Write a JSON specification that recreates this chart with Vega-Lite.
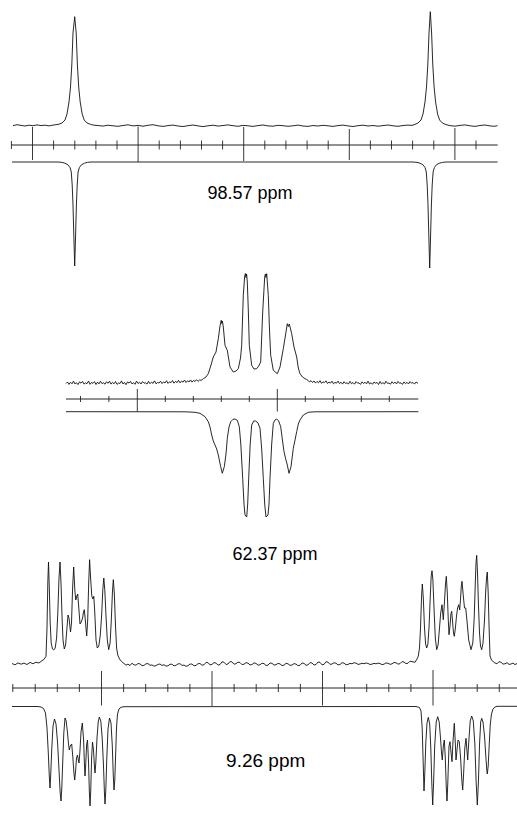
{
  "$schema": "https://vega.github.io/schema/vega-lite/v6.json",
  "padding": 0,
  "spacing": 0,
  "bounds": "flush",
  "background": "white",
  "config": {"view": {"stroke": null}},
  "resolve": {"scale": {"x": "independent", "y": "independent"}},
  "datasets": {
    "p1u": [{"x":13,"y":19.4},{"x":17,"y":20.3},{"x":21,"y":19.6},{"x":25,"y":19.0},{"x":29,"y":19.8},{"x":33,"y":19.3},{"x":37,"y":20.1},{"x":41,"y":19.4},{"x":45,"y":19.8},{"x":49,"y":19.1},{"x":53,"y":19.9},{"x":56,"y":20.3},{"x":59,"y":20.8},{"x":62,"y":22},{"x":65,"y":25},{"x":67,"y":31},{"x":69,"y":43},{"x":70.5,"y":58},{"x":71.8,"y":80},{"x":73,"y":112},{"x":74.7,"y":128.3},{"x":76.2,"y":112},{"x":77.4,"y":80},{"x":78.7,"y":58},{"x":80.2,"y":43},{"x":82.2,"y":31},{"x":84.2,"y":25},{"x":87,"y":22},{"x":90.5,"y":20.6},{"x":94,"y":19.8},{"x":98,"y":19.5},{"x":103,"y":18.9},{"x":108,"y":19.8},{"x":113,"y":19.2},{"x":118,"y":18.7},{"x":123,"y":19.5},{"x":128,"y":20.2},{"x":133,"y":19.1},{"x":138,"y":19.6},{"x":143,"y":18.8},{"x":148,"y":19.7},{"x":153,"y":20.3},{"x":158,"y":19.2},{"x":163,"y":18.6},{"x":168,"y":19.4},{"x":173,"y":19.9},{"x":178,"y":19.0},{"x":183,"y":18.5},{"x":188,"y":19.3},{"x":193,"y":20.0},{"x":198,"y":19.1},{"x":203,"y":18.4},{"x":208,"y":19.2},{"x":213,"y":19.8},{"x":218,"y":18.9},{"x":223,"y":19.5},{"x":228,"y":20.1},{"x":233,"y":19.3},{"x":238,"y":18.7},{"x":243,"y":19.6},{"x":248,"y":19.2},{"x":253,"y":18.6},{"x":258,"y":19.4},{"x":263,"y":20.0},{"x":268,"y":19.1},{"x":273,"y":18.8},{"x":278,"y":19.7},{"x":283,"y":19.3},{"x":288,"y":18.7},{"x":293,"y":19.2},{"x":298,"y":19.9},{"x":303,"y":19.0},{"x":308,"y":18.6},{"x":313,"y":19.5},{"x":318,"y":19.0},{"x":323,"y":19.7},{"x":328,"y":19.2},{"x":333,"y":18.6},{"x":338,"y":19.4},{"x":343,"y":19.9},{"x":348,"y":19.1},{"x":353,"y":18.5},{"x":358,"y":19.3},{"x":363,"y":19.8},{"x":368,"y":19.0},{"x":373,"y":19.5},{"x":378,"y":18.8},{"x":383,"y":19.4},{"x":388,"y":20.0},{"x":393,"y":19.2},{"x":398,"y":18.7},{"x":403,"y":19.5},{"x":408,"y":19.9},{"x":412,"y":19.6},{"x":415,"y":20.6},{"x":418,"y":22},{"x":421,"y":25},{"x":423,"y":31},{"x":425,"y":43},{"x":426.5,"y":58},{"x":427.8,"y":80},{"x":429,"y":112},{"x":430.3,"y":133.3},{"x":431.6,"y":112},{"x":432.8,"y":80},{"x":434.1,"y":58},{"x":435.6,"y":43},{"x":437.6,"y":31},{"x":439.6,"y":25},{"x":442.4,"y":22},{"x":446,"y":20.4},{"x":450,"y":19.4},{"x":455,"y":18.8},{"x":460,"y":19.6},{"x":465,"y":20.1},{"x":470,"y":19.2},{"x":475,"y":18.6},{"x":480,"y":19.5},{"x":485,"y":20.0},{"x":490,"y":19.1},{"x":494,"y":18.7},{"x":497.5,"y":19.3}],
    "p1l": [{"x":12,"y":-17},{"x":58,"y":-17},{"x":62,"y":-17.4},{"x":65,"y":-18.2},{"x":68,"y":-19.8},{"x":70,"y":-22.5},{"x":71.3,"y":-27},{"x":72.2,"y":-40},{"x":73,"y":-60},{"x":73.8,"y":-90},{"x":74.7,"y":-121},{"x":75.6,"y":-90},{"x":76.4,"y":-60},{"x":77.2,"y":-40},{"x":78.1,"y":-27},{"x":79.4,"y":-22.5},{"x":81.4,"y":-19.8},{"x":84.4,"y":-18.2},{"x":87.4,"y":-17.4},{"x":91,"y":-17},{"x":413,"y":-17},{"x":417,"y":-17.4},{"x":420,"y":-18.2},{"x":423,"y":-19.8},{"x":425,"y":-22.5},{"x":426.3,"y":-27},{"x":427.2,"y":-40},{"x":428,"y":-60},{"x":428.8,"y":-90},{"x":429.7,"y":-123},{"x":430.6,"y":-90},{"x":431.4,"y":-60},{"x":432.2,"y":-40},{"x":433.1,"y":-27},{"x":434.4,"y":-22.5},{"x":436.4,"y":-19.8},{"x":439.4,"y":-18.2},{"x":442.4,"y":-17.4},{"x":446,"y":-17},{"x":497.5,"y":-17}],
    "p1t": [{"x":11.4,"y":4,"y2":-4},{"x":53.6,"y":4.5,"y2":-4.5},{"x":74.8,"y":4.5,"y2":-4.5},{"x":95.9,"y":4.5,"y2":-4.5},{"x":117.0,"y":4.5,"y2":-4.5},{"x":159.2,"y":4.5,"y2":-4.5},{"x":180.4,"y":4.5,"y2":-4.5},{"x":201.5,"y":4.5,"y2":-4.5},{"x":222.6,"y":4.5,"y2":-4.5},{"x":264.8,"y":4.5,"y2":-4.5},{"x":285.9,"y":4.5,"y2":-4.5},{"x":307.1,"y":4.5,"y2":-4.5},{"x":328.2,"y":4.5,"y2":-4.5},{"x":370.4,"y":4.5,"y2":-4.5},{"x":391.5,"y":4.5,"y2":-4.5},{"x":412.6,"y":4.5,"y2":-4.5},{"x":433.8,"y":4.5,"y2":-4.5},{"x":476.0,"y":4.5,"y2":-4.5},{"x":32.5,"y":18,"y2":-15},{"x":138.1,"y":18.5,"y2":-17},{"x":243.7,"y":18,"y2":-16},{"x":349.3,"y":16,"y2":-15},{"x":454.9,"y":17,"y2":-15}],
    "p2u": [{"x":66,"y":15.5},{"x":67.5,"y":17.0},{"x":69,"y":14.6},{"x":70.5,"y":16.8},{"x":72,"y":15.2},{"x":73.5,"y":17.9},{"x":75,"y":15.0},{"x":76.5,"y":16.3},{"x":78,"y":14.4},{"x":79.5,"y":17.2},{"x":81,"y":15.8},{"x":82.5,"y":17.6},{"x":84,"y":14.9},{"x":85.5,"y":16.1},{"x":87,"y":15.3},{"x":88.5,"y":18.0},{"x":90,"y":14.7},{"x":91.5,"y":16.5},{"x":93,"y":15.6},{"x":94.5,"y":17.4},{"x":96,"y":14.5},{"x":97.5,"y":16.9},{"x":99,"y":15.1},{"x":100.5,"y":17.7},{"x":102,"y":15.4},{"x":103.5,"y":16.2},{"x":105,"y":14.8},{"x":106.5,"y":17.3},{"x":108,"y":15.7},{"x":109.5,"y":17.8},{"x":111,"y":14.9},{"x":112.5,"y":16.6},{"x":114,"y":15.2},{"x":115.5,"y":17.5},{"x":117,"y":14.6},{"x":118.5,"y":16.0},{"x":120,"y":15.5},{"x":121.5,"y":18.1},{"x":123,"y":15.0},{"x":124.5,"y":16.7},{"x":126,"y":14.3},{"x":127.5,"y":17.1},{"x":129,"y":15.9},{"x":130.5,"y":17.6},{"x":132,"y":15.1},{"x":133.5,"y":16.4},{"x":135,"y":14.7},{"x":136.5,"y":17.9},{"x":138,"y":15.4},{"x":139.5,"y":16.8},{"x":141,"y":15.0},{"x":142.5,"y":17.4},{"x":144,"y":15.8},{"x":145.5,"y":16.2},{"x":147,"y":14.9},{"x":148.5,"y":17.7},{"x":150,"y":15.3},{"x":151.5,"y":16.9},{"x":153,"y":15.6},{"x":154.5,"y":18.2},{"x":156,"y":15.2},{"x":157.5,"y":16.5},{"x":159,"y":15.9},{"x":160.5,"y":17.8},{"x":162,"y":15.4},{"x":163.5,"y":17.1},{"x":165,"y":16.0},{"x":166.5,"y":18.3},{"x":168,"y":15.6},{"x":169.5,"y":17.2},{"x":171,"y":16.3},{"x":172.5,"y":18.5},{"x":174,"y":15.8},{"x":175.5,"y":17.6},{"x":177,"y":16.4},{"x":178.5,"y":18.7},{"x":180,"y":16.1},{"x":181.5,"y":17.9},{"x":183,"y":16.8},{"x":184.5,"y":18.9},{"x":186,"y":16.5},{"x":187.5,"y":18.2},{"x":189,"y":17.0},{"x":190.5,"y":19.1},{"x":192,"y":16.9},{"x":193.5,"y":18.6},{"x":195,"y":17.5},{"x":196.5,"y":19.3},{"x":198,"y":17.6},{"x":199.5,"y":19.0},{"x":201,"y":18.6},{"x":203.3,"y":20.3},{"x":206,"y":22},{"x":208.3,"y":25.3},{"x":211,"y":34},{"x":213.3,"y":42},{"x":216,"y":47},{"x":218.3,"y":60.3},{"x":220,"y":73},{"x":221.2,"y":78.7},{"x":221.8,"y":75.5},{"x":222.4,"y":78},{"x":223.3,"y":72},{"x":225,"y":53.7},{"x":227.3,"y":48.7},{"x":230,"y":32},{"x":233.3,"y":27},{"x":236,"y":28},{"x":238.3,"y":30.3},{"x":240.5,"y":41},{"x":241.7,"y":53.7},{"x":243.3,"y":103.7},{"x":244.7,"y":123},{"x":245.4,"y":125.5},{"x":246,"y":121.5},{"x":246.6,"y":125},{"x":247.3,"y":117},{"x":248.3,"y":89},{"x":249.3,"y":53.7},{"x":251.7,"y":33.7},{"x":254,"y":30},{"x":256.7,"y":30.3},{"x":258.7,"y":33},{"x":260.7,"y":37},{"x":262.7,"y":87},{"x":264.7,"y":122},{"x":265.4,"y":125},{"x":266,"y":121.5},{"x":266.7,"y":125.3},{"x":268.3,"y":103.7},{"x":269.5,"y":69},{"x":270.7,"y":43.7},{"x":273.3,"y":28.7},{"x":277.3,"y":25.3},{"x":280,"y":32},{"x":283.3,"y":50.3},{"x":285.5,"y":64},{"x":287.3,"y":75.3},{"x":288.3,"y":72.5},{"x":289.3,"y":75},{"x":291.7,"y":65.3},{"x":294,"y":52},{"x":296.7,"y":42},{"x":298.3,"y":31},{"x":300,"y":25.3},{"x":302.5,"y":22},{"x":305,"y":20.3},{"x":306.5,"y":19.6},{"x":308,"y":18.7},{"x":309.5,"y":17.0},{"x":311,"y":18.4},{"x":312.5,"y":16.5},{"x":314,"y":18.0},{"x":315.5,"y":15.9},{"x":317,"y":17.6},{"x":318.5,"y":16.2},{"x":320,"y":18.3},{"x":321.5,"y":15.7},{"x":323,"y":17.1},{"x":324.5,"y":16.4},{"x":326,"y":18.2},{"x":327.5,"y":15.5},{"x":329,"y":16.9},{"x":330.5,"y":15.9},{"x":332,"y":17.8},{"x":333.5,"y":15.2},{"x":335,"y":16.6},{"x":336.5,"y":15.8},{"x":338,"y":17.9},{"x":339.5,"y":15.4},{"x":341,"y":16.8},{"x":342.5,"y":14.9},{"x":344,"y":17.3},{"x":345.5,"y":15.6},{"x":347,"y":16.2},{"x":348.5,"y":15.0},{"x":350,"y":17.7},{"x":351.5,"y":15.3},{"x":353,"y":16.5},{"x":354.5,"y":14.8},{"x":356,"y":17.4},{"x":357.5,"y":15.9},{"x":359,"y":16.1},{"x":360.5,"y":14.6},{"x":362,"y":17.2},{"x":363.5,"y":15.5},{"x":365,"y":16.8},{"x":366.5,"y":15.1},{"x":368,"y":17.9},{"x":369.5,"y":15.0},{"x":371,"y":16.3},{"x":372.5,"y":14.7},{"x":374,"y":17.0},{"x":375.5,"y":15.8},{"x":377,"y":16.6},{"x":378.5,"y":14.5},{"x":380,"y":17.5},{"x":381.5,"y":15.2},{"x":383,"y":16.4},{"x":384.5,"y":15.0},{"x":386,"y":17.8},{"x":387.5,"y":15.6},{"x":389,"y":16.0},{"x":390.5,"y":14.8},{"x":392,"y":17.3},{"x":393.5,"y":15.4},{"x":395,"y":16.9},{"x":396.5,"y":15.1},{"x":398,"y":17.6},{"x":399.5,"y":15.7},{"x":401,"y":16.2},{"x":402.5,"y":14.6},{"x":404,"y":17.1},{"x":405.5,"y":15.3},{"x":407,"y":16.7},{"x":408.5,"y":15.0},{"x":410,"y":17.4},{"x":411.5,"y":15.8},{"x":413,"y":16.5},{"x":414.5,"y":14.9},{"x":416,"y":17.0},{"x":418,"y":15.6}],
    "p2l": [{"x":66,"y":-12.7},{"x":185,"y":-12.8},{"x":195,"y":-13.3},{"x":200,"y":-14.3},{"x":205,"y":-17.7},{"x":208.3,"y":-22.7},{"x":210,"y":-28},{"x":211.7,"y":-36},{"x":213.3,"y":-42},{"x":215,"y":-46},{"x":216.7,"y":-50},{"x":218.3,"y":-56},{"x":219.5,"y":-62},{"x":220.7,"y":-67.7},{"x":222.3,"y":-74.3},{"x":224.3,"y":-67.7},{"x":226,"y":-55},{"x":227.3,"y":-39.3},{"x":229,"y":-28},{"x":230.7,"y":-22.7},{"x":233,"y":-20.3},{"x":235,"y":-20},{"x":237.3,"y":-21.3},{"x":239.3,"y":-27.7},{"x":240.8,"y":-45},{"x":242.7,"y":-79.3},{"x":244,"y":-105},{"x":245,"y":-116},{"x":246.7,"y":-118},{"x":247.7,"y":-105},{"x":248.7,"y":-79.3},{"x":250.2,"y":-45},{"x":251.7,"y":-26},{"x":253.7,"y":-22},{"x":255.7,"y":-22},{"x":258,"y":-24},{"x":260,"y":-29.3},{"x":261.7,"y":-50},{"x":263.3,"y":-79.3},{"x":264.7,"y":-105},{"x":266,"y":-118},{"x":268,"y":-116},{"x":269,"y":-105},{"x":270,"y":-79.3},{"x":271.7,"y":-45},{"x":273.3,"y":-24.3},{"x":275,"y":-21},{"x":276.7,"y":-20},{"x":278.7,"y":-22},{"x":280.7,"y":-27.7},{"x":282.3,"y":-40},{"x":284,"y":-52.7},{"x":285.7,"y":-60},{"x":287.3,"y":-66},{"x":289,"y":-74.3},{"x":291,"y":-67.7},{"x":293.3,"y":-49.3},{"x":295,"y":-41},{"x":296.7,"y":-32.7},{"x":298.3,"y":-25},{"x":300,"y":-21},{"x":303.3,"y":-16},{"x":308.3,"y":-13.3},{"x":315,"y":-12.8},{"x":418.3,"y":-12.7}],
    "p2t": [{"x":80.5,"y":3,"y2":-3},{"x":108.9,"y":3,"y2":-3},{"x":165.3,"y":3,"y2":-3},{"x":193.3,"y":3,"y2":-3},{"x":221.3,"y":3,"y2":-3},{"x":249.3,"y":3,"y2":-3},{"x":305.3,"y":3,"y2":-3},{"x":333.3,"y":3,"y2":-3},{"x":361.3,"y":3,"y2":-3},{"x":389.3,"y":3,"y2":-3},{"x":137.3,"y":10,"y2":-12.5},{"x":277.3,"y":10,"y2":-12.5}],
    "p3u": [{"x":12,"y":24.5},{"x":15,"y":23.2},{"x":18,"y":25.1},{"x":21,"y":23.8},{"x":24,"y":24.9},{"x":27,"y":23.5},{"x":30,"y":25.6},{"x":33,"y":24.2},{"x":36,"y":25.8},{"x":39,"y":25.0},{"x":42,"y":27.4},{"x":44,"y":28.6},{"x":46,"y":31.7},{"x":47,"y":60},{"x":47.8,"y":105},{"x":48.5,"y":126},{"x":49.3,"y":100},{"x":50.2,"y":65},{"x":51.2,"y":45},{"x":52.5,"y":39},{"x":53.8,"y":38},{"x":55.2,"y":40},{"x":56.6,"y":50},{"x":57.8,"y":75},{"x":59,"y":110},{"x":60,"y":126},{"x":61,"y":105},{"x":62,"y":72},{"x":63,"y":48},{"x":64.3,"y":39},{"x":65.6,"y":43},{"x":66.8,"y":58},{"x":68,"y":73},{"x":69,"y":70},{"x":70.5,"y":56},{"x":71.5,"y":65},{"x":72.6,"y":100},{"x":73.7,"y":121},{"x":74.8,"y":98},{"x":75.8,"y":88},{"x":76.8,"y":92},{"x":77.7,"y":94},{"x":78.8,"y":80},{"x":80,"y":64},{"x":81.2,"y":66},{"x":82.6,"y":70},{"x":83.5,"y":76},{"x":84.3,"y":78.3},{"x":85.3,"y":68},{"x":86.7,"y":52},{"x":87.7,"y":68},{"x":88.7,"y":105},{"x":89.6,"y":128.3},{"x":90.6,"y":110},{"x":91.8,"y":92},{"x":92.8,"y":89},{"x":93.8,"y":91.7},{"x":94.8,"y":75},{"x":96,"y":48},{"x":97.3,"y":40},{"x":98.8,"y":42},{"x":100.2,"y":52},{"x":101.6,"y":72},{"x":102.8,"y":98},{"x":103.8,"y":110},{"x":104.8,"y":98},{"x":106,"y":72},{"x":107.3,"y":48},{"x":108.7,"y":38.3},{"x":110.1,"y":45},{"x":111.3,"y":68},{"x":112.4,"y":95},{"x":113.3,"y":108.3},{"x":114.3,"y":95},{"x":115.5,"y":62},{"x":116.6,"y":40},{"x":117.8,"y":33},{"x":119.5,"y":29},{"x":121.5,"y":26.5},{"x":124,"y":24.5},{"x":126,"y":22.8},{"x":128,"y":23.9},{"x":130,"y":22.4},{"x":132,"y":24.8},{"x":134,"y":23.1},{"x":136,"y":22.9},{"x":138,"y":24.5},{"x":140,"y":24.1},{"x":142,"y":22.3},{"x":144,"y":22.6},{"x":146,"y":24.2},{"x":148,"y":24.4},{"x":150,"y":22.7},{"x":152,"y":23.1},{"x":154,"y":21.8},{"x":156,"y":22.4},{"x":158,"y":23.6},{"x":160,"y":24.0},{"x":162,"y":22.5},{"x":164,"y":23.3},{"x":166,"y":21.9},{"x":168,"y":22.2},{"x":170,"y":23.7},{"x":172,"y":23.8},{"x":174,"y":22.1},{"x":176,"y":22.7},{"x":178,"y":24.1},{"x":180,"y":24.3},{"x":182,"y":22.6},{"x":184,"y":22.9},{"x":186,"y":21.7},{"x":188,"y":22.3},{"x":190,"y":24.0},{"x":192,"y":23.9},{"x":194,"y":22.2},{"x":196,"y":22.6},{"x":198,"y":24.3},{"x":200,"y":24.5},{"x":202,"y":22.8},{"x":204,"y":23.2},{"x":206,"y":25.6},{"x":208,"y":25.3},{"x":210,"y":23.1},{"x":212,"y":23.6},{"x":214,"y":25.4},{"x":216,"y":24.9},{"x":218,"y":22.9},{"x":220,"y":23.4},{"x":222,"y":26.2},{"x":224,"y":25.8},{"x":226,"y":23.5},{"x":228,"y":24.0},{"x":230,"y":26.5},{"x":232,"y":26.1},{"x":234,"y":23.8},{"x":236,"y":24.3},{"x":238,"y":25.9},{"x":240,"y":25.4},{"x":242,"y":23.4},{"x":244,"y":23.8},{"x":246,"y":25.3},{"x":248,"y":24.9},{"x":250,"y":23.0},{"x":252,"y":23.5},{"x":254,"y":25.1},{"x":256,"y":24.6},{"x":258,"y":22.8},{"x":260,"y":23.2},{"x":262,"y":24.8},{"x":264,"y":24.4},{"x":266,"y":22.5},{"x":268,"y":22.9},{"x":270,"y":25.0},{"x":272,"y":24.7},{"x":274,"y":22.9},{"x":276,"y":23.3},{"x":278,"y":24.6},{"x":280,"y":24.1},{"x":282,"y":22.4},{"x":284,"y":22.8},{"x":286,"y":24.7},{"x":288,"y":24.2},{"x":290,"y":22.6},{"x":292,"y":23.0},{"x":294,"y":24.4},{"x":296,"y":23.9},{"x":298,"y":22.3},{"x":300,"y":22.7},{"x":302,"y":25.0},{"x":304,"y":24.6},{"x":306,"y":22.7},{"x":308,"y":23.1},{"x":310,"y":25.4},{"x":312,"y":25.0},{"x":314,"y":23.0},{"x":316,"y":23.4},{"x":318,"y":26.0},{"x":320,"y":25.6},{"x":322,"y":23.2},{"x":324,"y":23.6},{"x":326,"y":26.3},{"x":328,"y":25.9},{"x":330,"y":23.6},{"x":332,"y":24.0},{"x":334,"y":25.2},{"x":336,"y":24.8},{"x":338,"y":23.1},{"x":340,"y":23.5},{"x":342,"y":25.3},{"x":344,"y":24.9},{"x":346,"y":23.2},{"x":348,"y":23.6},{"x":350,"y":24.6},{"x":352,"y":24.2},{"x":354,"y":25.3},{"x":356,"y":24.9},{"x":358,"y":23.6},{"x":360,"y":24.0},{"x":362,"y":24.7},{"x":364,"y":24.3},{"x":366,"y":25.0},{"x":368,"y":24.6},{"x":370,"y":23.5},{"x":372,"y":23.9},{"x":374,"y":24.6},{"x":376,"y":24.2},{"x":378,"y":24.9},{"x":380,"y":24.5},{"x":382,"y":23.4},{"x":384,"y":23.8},{"x":386,"y":25.1},{"x":388,"y":24.7},{"x":390,"y":23.7},{"x":392,"y":24.1},{"x":394,"y":25.6},{"x":396,"y":25.2},{"x":398,"y":23.9},{"x":400,"y":24.3},{"x":402,"y":26.4},{"x":404,"y":26.0},{"x":406,"y":24.4},{"x":408,"y":24.8},{"x":410,"y":26.8},{"x":412,"y":26.4},{"x":415,"y":25.7},{"x":417,"y":29},{"x":418.3,"y":32},{"x":419.5,"y":40},{"x":420.5,"y":60},{"x":421.5,"y":90},{"x":422.3,"y":104},{"x":423.3,"y":90},{"x":424.5,"y":60},{"x":425.6,"y":44},{"x":426.7,"y":40},{"x":427.9,"y":44},{"x":429.1,"y":62},{"x":430.3,"y":92},{"x":431.2,"y":112},{"x":432,"y":117.3},{"x":432.9,"y":108},{"x":434,"y":80},{"x":435.3,"y":50},{"x":436.7,"y":38.3},{"x":438.1,"y":43},{"x":439.5,"y":60},{"x":440.7,"y":75},{"x":442,"y":83.3},{"x":443.3,"y":68.3},{"x":444.6,"y":88},{"x":445.5,"y":104},{"x":446.3,"y":111.7},{"x":447.3,"y":95},{"x":448.2,"y":70},{"x":449,"y":53.3},{"x":450,"y":62},{"x":450.9,"y":74},{"x":451.7,"y":76.7},{"x":452.6,"y":66},{"x":453.5,"y":55},{"x":454.3,"y":51.7},{"x":455.4,"y":60},{"x":456.5,"y":72},{"x":457.6,"y":80},{"x":458.7,"y":83.3},{"x":459.7,"y":78},{"x":460.6,"y":90},{"x":461.3,"y":102},{"x":462,"y":106.7},{"x":463.3,"y":92},{"x":464.5,"y":80},{"x":465.7,"y":80},{"x":467.2,"y":65},{"x":468.7,"y":48},{"x":471,"y":38.3},{"x":472.8,"y":45},{"x":474.2,"y":70},{"x":475.3,"y":105},{"x":476,"y":125},{"x":476.7,"y":132.7},{"x":477.5,"y":115},{"x":478.4,"y":85},{"x":479.5,"y":55},{"x":480.5,"y":42},{"x":481.7,"y":38.3},{"x":483,"y":45},{"x":484.5,"y":68},{"x":485.6,"y":95},{"x":486.5,"y":110},{"x":487.3,"y":116},{"x":488.2,"y":95},{"x":489.1,"y":60},{"x":490,"y":32},{"x":491.5,"y":28},{"x":493.5,"y":26},{"x":495,"y":25},{"x":497,"y":24.2},{"x":499,"y":26.3},{"x":501,"y":25.8},{"x":503,"y":23.9},{"x":505,"y":24.2},{"x":507,"y":25.3},{"x":509,"y":23.6},{"x":511,"y":24.0},{"x":513,"y":24.9},{"x":515,"y":23.4},{"x":517,"y":24.5}],
    "p3l": [{"x":12,"y":-18.5},{"x":38,"y":-18.5},{"x":41,"y":-19},{"x":43.5,"y":-20.5},{"x":45.5,"y":-25},{"x":47,"y":-40},{"x":48.3,"y":-65},{"x":49.3,"y":-88},{"x":50,"y":-100},{"x":50.8,"y":-85},{"x":51.8,"y":-60},{"x":53,"y":-38},{"x":54.5,"y":-31},{"x":56,"y":-36},{"x":57.6,"y":-55},{"x":59,"y":-82},{"x":60.2,"y":-105},{"x":61,"y":-113},{"x":61.8,"y":-100},{"x":62.8,"y":-72},{"x":63.8,"y":-45},{"x":65,"y":-30},{"x":66.2,"y":-33},{"x":67.3,"y":-43},{"x":68.5,"y":-56},{"x":69.3,"y":-62},{"x":70.2,"y":-58},{"x":71.7,"y":-56},{"x":72.9,"y":-70},{"x":74,"y":-86},{"x":74.7,"y":-92},{"x":75.5,"y":-84},{"x":76.5,"y":-70},{"x":77.5,"y":-67},{"x":78.3,"y":-72},{"x":79,"y":-75},{"x":79.9,"y":-64},{"x":81,"y":-44},{"x":82.3,"y":-35},{"x":83.6,"y":-52},{"x":84.5,"y":-78},{"x":85,"y":-88},{"x":85.7,"y":-77},{"x":86.6,"y":-57},{"x":87.5,"y":-52},{"x":88.5,"y":-74},{"x":89.4,"y":-105},{"x":90,"y":-118},{"x":90.7,"y":-104},{"x":91.6,"y":-70},{"x":92.5,"y":-54},{"x":93.5,"y":-62},{"x":94.4,"y":-78},{"x":95,"y":-85},{"x":95.8,"y":-75},{"x":97,"y":-50},{"x":98.2,"y":-34},{"x":99.3,"y":-29},{"x":100.8,"y":-33},{"x":102.2,"y":-50},{"x":103.5,"y":-78},{"x":104.4,"y":-104},{"x":105,"y":-116},{"x":105.8,"y":-102},{"x":106.8,"y":-70},{"x":108,"y":-41},{"x":109.5,"y":-30},{"x":111,"y":-35},{"x":112.3,"y":-58},{"x":113.3,"y":-88},{"x":114,"y":-102},{"x":114.8,"y":-92},{"x":115.7,"y":-65},{"x":116.5,"y":-40},{"x":117.5,"y":-26},{"x":119,"y":-21},{"x":121,"y":-19.3},{"x":124,"y":-18.7},{"x":416,"y":-18.5},{"x":419.5,"y":-19.5},{"x":421,"y":-23},{"x":422.2,"y":-40},{"x":423.2,"y":-75},{"x":424,"y":-103},{"x":424.8,"y":-85},{"x":425.8,"y":-55},{"x":427,"y":-35},{"x":428.3,"y":-29.3},{"x":429.7,"y":-36},{"x":430.8,"y":-60},{"x":431.8,"y":-95},{"x":432.7,"y":-117},{"x":433.6,"y":-95},{"x":434.7,"y":-58},{"x":436.2,"y":-34},{"x":437.7,"y":-28.7},{"x":439.2,"y":-34},{"x":440.5,"y":-50},{"x":441.6,"y":-66},{"x":442.3,"y":-72},{"x":443.3,"y":-58},{"x":444.3,"y":-52},{"x":445.3,"y":-70},{"x":446.3,"y":-100},{"x":447,"y":-113},{"x":447.8,"y":-95},{"x":449,"y":-58},{"x":450,"y":-53.7},{"x":451.2,"y":-66},{"x":452,"y":-73.7},{"x":452.9,"y":-55},{"x":454.3,"y":-35.3},{"x":455.3,"y":-55},{"x":456,"y":-72},{"x":457,"y":-62},{"x":458,"y":-52},{"x":459.3,"y":-53.7},{"x":460.6,"y":-70},{"x":461.8,"y":-92},{"x":462.7,"y":-102},{"x":463.6,"y":-86},{"x":464.8,"y":-60},{"x":466,"y":-50.3},{"x":466.9,"y":-62},{"x":467.7,"y":-72},{"x":468.7,"y":-55},{"x":470.2,"y":-33},{"x":471.7,"y":-28},{"x":473.3,"y":-33},{"x":474.8,"y":-55},{"x":476.2,"y":-95},{"x":477.3,"y":-117},{"x":478.4,"y":-95},{"x":479.6,"y":-55},{"x":480.7,"y":-34},{"x":481.7,"y":-30.3},{"x":483,"y":-34},{"x":484.5,"y":-48},{"x":485.8,"y":-68},{"x":486.8,"y":-82},{"x":487.3,"y":-86},{"x":488.2,"y":-78},{"x":489.3,"y":-55},{"x":490.3,"y":-36},{"x":491.5,"y":-26},{"x":493,"y":-21},{"x":495,"y":-19},{"x":497,"y":-18.3},{"x":517,"y":-18.3}],
    "p3t": [{"x":12.8,"y":4,"y2":-4},{"x":35.2,"y":4,"y2":-4},{"x":57.3,"y":4,"y2":-4},{"x":79.4,"y":4,"y2":-4},{"x":123.6,"y":4,"y2":-4},{"x":145.7,"y":4,"y2":-4},{"x":167.8,"y":4,"y2":-4},{"x":189.9,"y":4,"y2":-4},{"x":234.1,"y":4,"y2":-4},{"x":256.2,"y":4,"y2":-4},{"x":278.3,"y":4,"y2":-4},{"x":300.4,"y":4,"y2":-4},{"x":344.6,"y":4,"y2":-4},{"x":366.7,"y":4,"y2":-4},{"x":388.8,"y":4,"y2":-4},{"x":410.9,"y":4,"y2":-4},{"x":455.1,"y":4,"y2":-4},{"x":477.2,"y":4,"y2":-4},{"x":499.3,"y":4,"y2":-4},{"x":101.5,"y":17,"y2":-17.5},{"x":212,"y":17,"y2":-18},{"x":322.5,"y":17,"y2":-17.5},{"x":433,"y":18,"y2":-17.5}]
  },
  "vconcat": [
    {
      "width": 517, "height": 270,
      "encoding": {
        "x": {"field": "x", "type": "quantitative", "scale": {"domain": [0, 517], "nice": false, "zero": false}, "axis": null},
        "y": {"field": "y", "type": "quantitative", "scale": {"domain": [-125, 145], "nice": false, "zero": false}, "axis": null}
      },
      "layer": [
        {"data": {"name": "p1u"}, "mark": {"type": "line", "stroke": "#111", "strokeWidth": 0.9, "strokeJoin": "round"}},
        {"data": {"name": "p1l"}, "mark": {"type": "line", "stroke": "#111", "strokeWidth": 0.9, "strokeJoin": "round"}},
        {"data": {"values": [{"x": 11, "x2": 497.7, "y": 0}]}, "mark": {"type": "rule", "stroke": "#222", "strokeWidth": 1}, "encoding": {"x2": {"field": "x2"}}},
        {"data": {"name": "p1t"}, "mark": {"type": "rule", "stroke": "#222", "strokeWidth": 0.9}, "encoding": {"y2": {"field": "y2"}}},
        {"data": {"values": [{"x": 250, "y": -54, "t": "98.57 ppm"}]}, "mark": {"type": "text", "font": "Liberation Sans", "fontSize": 18, "align": "center", "baseline": "alphabetic", "color": "#000"}, "encoding": {"text": {"field": "t"}}}
      ]
    },
    {
      "width": 517, "height": 280,
      "encoding": {
        "x": {"field": "x", "type": "quantitative", "scale": {"domain": [0, 517], "nice": false, "zero": false}, "axis": null},
        "y": {"field": "y", "type": "quantitative", "scale": {"domain": [-151, 129], "nice": false, "zero": false}, "axis": null}
      },
      "layer": [
        {"data": {"name": "p2u"}, "mark": {"type": "line", "stroke": "#111", "strokeWidth": 0.9, "strokeJoin": "round"}},
        {"data": {"name": "p2l"}, "mark": {"type": "line", "stroke": "#111", "strokeWidth": 0.9, "strokeJoin": "round"}},
        {"data": {"values": [{"x": 66, "x2": 418.3, "y": 0}]}, "mark": {"type": "rule", "stroke": "#222", "strokeWidth": 1}, "encoding": {"x2": {"field": "x2"}}},
        {"data": {"name": "p2t"}, "mark": {"type": "rule", "stroke": "#222", "strokeWidth": 0.9}, "encoding": {"y2": {"field": "y2"}}},
        {"data": {"values": [{"x": 275, "y": -160.5, "t": "62.37 ppm"}]}, "mark": {"type": "text", "font": "Liberation Sans", "fontSize": 18, "align": "center", "baseline": "alphabetic", "color": "#000"}, "encoding": {"text": {"field": "t"}}}
      ]
    },
    {
      "width": 517, "height": 266,
      "encoding": {
        "x": {"field": "x", "type": "quantitative", "scale": {"domain": [0, 517], "nice": false, "zero": false}, "axis": null},
        "y": {"field": "y", "type": "quantitative", "scale": {"domain": [-128, 138], "nice": false, "zero": false}, "axis": null}
      },
      "layer": [
        {"data": {"name": "p3u"}, "mark": {"type": "line", "stroke": "#111", "strokeWidth": 0.9, "strokeJoin": "round"}},
        {"data": {"name": "p3l"}, "mark": {"type": "line", "stroke": "#111", "strokeWidth": 0.9, "strokeJoin": "round"}},
        {"data": {"values": [{"x": 12.3, "x2": 517, "y": 0}]}, "mark": {"type": "rule", "stroke": "#222", "strokeWidth": 1}, "encoding": {"x2": {"field": "x2"}}},
        {"data": {"name": "p3t"}, "mark": {"type": "rule", "stroke": "#222", "strokeWidth": 0.9}, "encoding": {"y2": {"field": "y2"}}},
        {"data": {"values": [{"x": 265.7, "y": -78.5, "t": "9.26 ppm"}]}, "mark": {"type": "text", "font": "Liberation Sans", "fontSize": 19, "align": "center", "baseline": "alphabetic", "color": "#000"}, "encoding": {"text": {"field": "t"}}}
      ]
    }
  ]
}
